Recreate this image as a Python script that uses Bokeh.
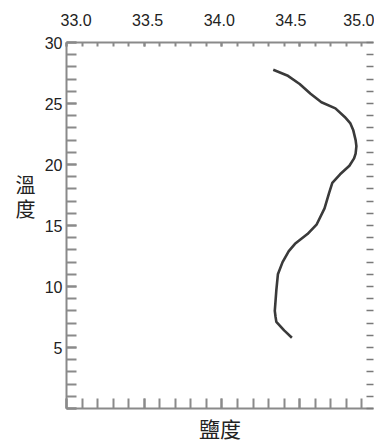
from bokeh.plotting import figure
from bokeh.models import (Range1d, LinearAxis, SingleIntervalTicker, FixedTicker,
                          NumeralTickFormatter, CustomJSTickFormatter)
from bokeh.embed import file_html
from bokeh.resources import INLINE

# ---- data ----
salinity = [34.33, 34.42, 34.50, 34.57, 34.64, 34.73, 34.79, 34.825, 34.845, 34.86, 34.865,
            34.86, 34.85, 34.82, 34.76, 34.71, 34.69, 34.66, 34.61, 34.55, 34.47, 34.43,
            34.39, 34.36, 34.35, 34.34, 34.345, 34.35, 34.40, 34.45]
temperature = [27.76, 27.3, 26.6, 25.8, 25.1, 24.6, 23.9, 23.4, 22.8, 22.0, 21.5,
               20.9, 20.5, 19.9, 19.2, 18.5, 17.7, 16.4, 15.1, 14.3, 13.5, 12.9,
               12.0, 11.0, 9.7, 8.0, 7.5, 7.1, 6.4, 5.8]
x_label_ticks = [33.0, 33.5, 34.0, 34.5, 35.0]
y_title_chars = ["溫", "度"]
x_title = "鹽度"

AX = "#8a8a8a"
TXT = "#222222"

p = figure(width=374, height=445, x_range=Range1d(33.0, 34.975), y_range=Range1d(0, 30),
           output_backend="svg", toolbar_location=None,
           x_axis_location=None, y_axis_location=None,
           min_border_left=66, min_border_right=1, min_border_top=42, min_border_bottom=37)
p.outline_line_color = None
p.xgrid.grid_line_color = None
p.ygrid.grid_line_color = None
p.extra_x_ranges = {"lab": Range1d(32.933, 35.077)}

blank = CustomJSTickFormatter(code="return ''")

def style(ax, tin):
    ax.axis_line_color = AX
    ax.axis_line_width = 2
    ax.major_tick_line_color = AX
    ax.minor_tick_line_color = AX
    ax.major_tick_line_width = 2
    ax.minor_tick_line_width = 2
    ax.major_tick_in = tin
    ax.major_tick_out = 0
    ax.minor_tick_in = tin
    ax.minor_tick_out = 0

# bottom axis: ticks + title
bottom = LinearAxis(ticker=SingleIntervalTicker(interval=0.5, num_minor_ticks=5), formatter=blank)
style(bottom, 10)
bottom.major_label_standoff = 0
bottom.axis_label = x_title
bottom.axis_label_text_font = "Noto Sans CJK TC"
bottom.axis_label_text_font_size = "21px"
bottom.axis_label_text_font_style = "normal"
bottom.axis_label_text_color = TXT
bottom.axis_label_standoff = 4
p.add_layout(bottom, "below")

# left axis
left = LinearAxis(ticker=SingleIntervalTicker(interval=5, num_minor_ticks=5),
                  major_label_overrides={0: ""})
style(left, 10)
left.major_label_text_font = "Liberation Sans"
left.major_label_text_font_size = "16px"
left.major_label_text_color = TXT
left.major_label_standoff = 4
p.add_layout(left, "left")

# left title, stacked characters
title_axis = LinearAxis(ticker=FixedTicker(ticks=[18.36, 16.43], minor_ticks=[]),
                        major_label_overrides={18.36: y_title_chars[0], 16.43: y_title_chars[1]})
title_axis.axis_line_color = None
title_axis.major_tick_line_color = None
title_axis.major_tick_in = 0
title_axis.major_tick_out = 0
title_axis.major_label_text_font = "Noto Sans CJK TC"
title_axis.major_label_text_font_size = "20px"
title_axis.major_label_text_color = TXT
title_axis.major_label_standoff = 6
p.add_layout(title_axis, "left")

# top axis: ticks
top_ticks = LinearAxis(ticker=SingleIntervalTicker(interval=0.5, num_minor_ticks=5), formatter=blank)
style(top_ticks, 4)
top_ticks.major_label_standoff = 0
p.add_layout(top_ticks, "above")

# top axis: labels
top_lab = LinearAxis(x_range_name="lab", ticker=FixedTicker(ticks=x_label_ticks, minor_ticks=[]),
                     formatter=NumeralTickFormatter(format="0.0"))
top_lab.axis_line_color = None
top_lab.major_tick_line_color = None
top_lab.major_tick_in = 0
top_lab.major_tick_out = 0
top_lab.major_label_text_font = "Liberation Sans"
top_lab.major_label_text_font_size = "16px"
top_lab.major_label_text_color = TXT
top_lab.major_label_standoff = 17
p.add_layout(top_lab, "above")

# right axis: short ticks, no line
right = LinearAxis(ticker=SingleIntervalTicker(interval=1, num_minor_ticks=0), formatter=blank)
right.axis_line_color = None
right.major_tick_line_color = "#7a7a7a"
right.major_tick_line_width = 1.5
right.major_tick_in = 7
right.major_tick_out = 0
right.minor_tick_line_color = None
right.major_label_standoff = 0
p.add_layout(right, "right")

# profile curve
p.line(salinity, temperature, line_color="#3a3a3a", line_width=2.6, line_join="round")

open("out.html", "w").write(file_html(p, INLINE))
